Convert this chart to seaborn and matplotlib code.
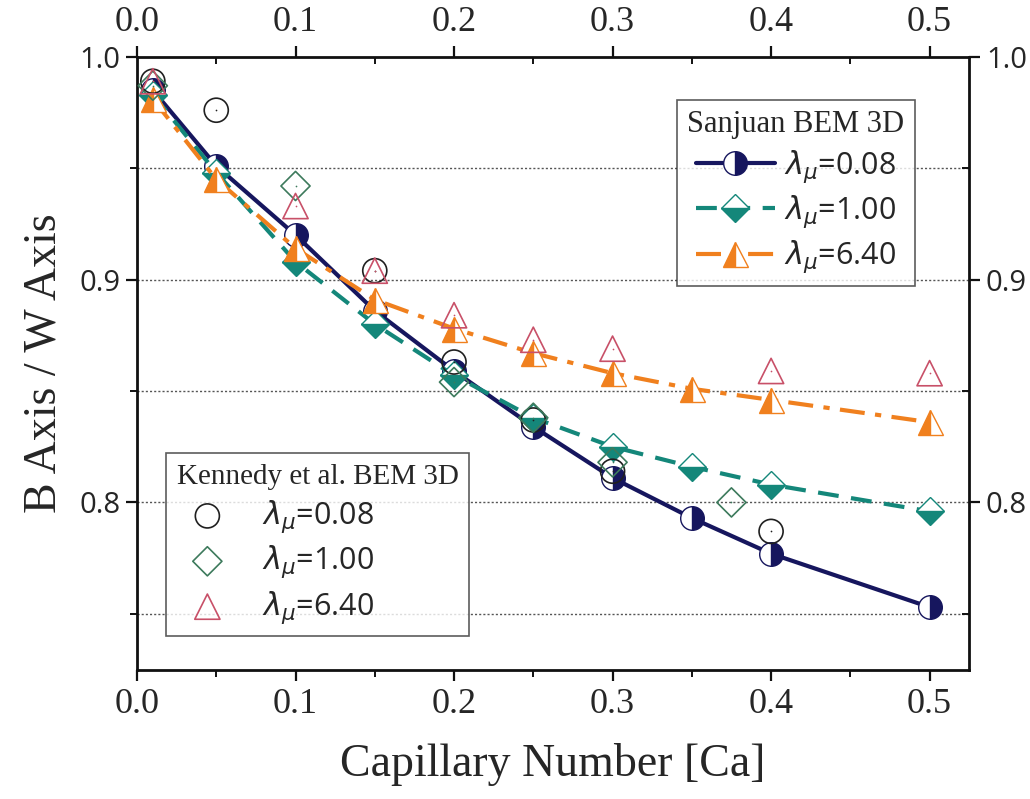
import numpy as np
import pandas as pd
import matplotlib
matplotlib.use("Agg")
import matplotlib.pyplot as plt
import seaborn as sns
from matplotlib.ticker import MultipleLocator

sns.set_theme(style="white")
plt.rcParams['font.family'] = ['Liberation Serif', 'DejaVu Serif']
plt.rcParams['mathtext.fontset'] = 'dejavusans'

# ---- data ----
ca_s = [0.01, 0.05, 0.10, 0.15, 0.20, 0.25, 0.30, 0.35, 0.40, 0.50]
san_008 = [0.985, 0.951, 0.920, 0.886, 0.859, 0.834, 0.811, 0.793, 0.777, 0.753]
san_100 = [0.983, 0.948, 0.908, 0.880, 0.857, 0.838, 0.825, 0.816, 0.808, 0.796]
san_640 = [0.981, 0.945, 0.914, 0.891, 0.878, 0.867, 0.858, 0.851, 0.846, 0.836]

ken_008_x = [0.01, 0.05, 0.15, 0.20, 0.25, 0.30, 0.40]
ken_008_y = [0.989, 0.976, 0.904, 0.863, 0.837, 0.814, 0.787]
ken_100_x = [0.01, 0.10, 0.20, 0.25, 0.30, 0.375]
ken_100_y = [0.987, 0.942, 0.854, 0.838, 0.818, 0.800]
ken_640_x = [0.01, 0.10, 0.15, 0.20, 0.25, 0.30, 0.40, 0.50]
ken_640_y = [0.989, 0.933, 0.904, 0.884, 0.873, 0.869, 0.859, 0.858]

labels = [r'$\lambda_{\mu}$=0.08', r'$\lambda_{\mu}$=1.00', r'$\lambda_{\mu}$=6.40']

NAVY = '#16165e'
TEAL = '#14877a'
ORANGE = '#f0801e'
K_CIRC = '#202020'
K_DIAM = '#3d7a5c'
K_TRI = '#c85068'

fig, ax = plt.subplots(figsize=(10.30, 7.99), dpi=100)
fig.subplots_adjust(left=0.133, right=0.941, top=0.929, bottom=0.162)

# grid lines
for yv in [0.75, 0.80, 0.85, 0.90, 0.95]:
    ax.axhline(yv, color='#555555', lw=1.0, ls=(0, (1.5, 1.5)), zorder=0)

# Sanjuan (lines + half-filled markers)
san_specs = [
    (san_008, NAVY, '-', 'o', 'right', labels[0], 17),
    (san_100, TEAL, (0, (5, 3)), 'D', 'bottom', labels[1], 14),
    (san_640, ORANGE, (0, (6, 2.5, 1.5, 2.5)), '^', 'left', labels[2], 18),
]
san_handles = []
for vals, col, ls, mk, fs, lab, ms in san_specs:
    df = pd.DataFrame({'Ca': ca_s, 'r': vals})
    sns.lineplot(data=df, x='Ca', y='r', ax=ax, color=col, lw=3.0, linestyle=ls,
                 marker=mk, markersize=ms, fillstyle=fs, markerfacecolor=col,
                 markerfacecoloralt='white', markeredgecolor=col,
                 markeredgewidth=1.0, label=lab, zorder=3)
    san_handles.append(ax.get_lines()[-1])

# Kennedy (open markers with a centre dot)
ken_specs = [
    (ken_008_x, ken_008_y, K_CIRC, 'o', labels[0], 300),
    (ken_100_x, ken_100_y, K_DIAM, 'D', labels[1], 220),
    (ken_640_x, ken_640_y, K_TRI, '^', labels[2], 330),
]
ken_handles = []
for xs, ys, col, mk, lab, s in ken_specs:
    df = pd.DataFrame({'Ca': xs, 'r': ys})
    sns.scatterplot(data=df, x='Ca', y='r', ax=ax, marker=mk, s=s,
                    facecolor='none', edgecolor=col, linewidth=1.2,
                    label=lab, zorder=4)
    ken_handles.append(ax.collections[-1])
    sns.scatterplot(data=df, x='Ca', y='r', ax=ax, marker='.', s=6,
                    color=col, linewidth=0, zorder=5, legend=False)

ax.set_xlim(0.0, 0.525)
ax.set_ylim(0.725, 1.0)

ax.xaxis.set_major_locator(MultipleLocator(0.1))
ax.xaxis.set_minor_locator(MultipleLocator(0.05))
ax.yaxis.set_major_locator(MultipleLocator(0.1))
ax.yaxis.set_minor_locator(MultipleLocator(0.05))
ax.xaxis.set_major_formatter(matplotlib.ticker.FormatStrFormatter('%.1f'))
ax.yaxis.set_major_formatter(matplotlib.ticker.FormatStrFormatter('%.1f'))

ax.tick_params(axis='x', which='both', bottom=True, top=True, labelbottom=True,
               labeltop=True, direction='out', color='#111111')
ax.tick_params(axis='y', which='both', left=True, right=True, labelleft=True,
               labelright=True, direction='out', color='#111111')
ax.tick_params(which='major', length=8, width=1.6)
ax.tick_params(which='minor', length=5, width=1.4)
# top & right ticks point inward
for t in ax.xaxis.get_major_ticks() + ax.xaxis.get_minor_ticks():
    t.tick2line.set_marker(matplotlib.lines.TICKDOWN)
for t in ax.yaxis.get_major_ticks() + ax.yaxis.get_minor_ticks():
    t.tick2line.set_marker(matplotlib.lines.TICKLEFT)

for lab in ax.get_xticklabels():
    lab.set_fontfamily(['Liberation Serif', 'DejaVu Serif'])
    lab.set_fontsize(26)
for lab in ax.get_yticklabels():
    lab.set_fontfamily(['Open Sans', 'DejaVu Sans'])
    lab.set_fontsize(21)
ax.xaxis.set_tick_params(pad=5)
ax.yaxis.set_tick_params(pad=4)

for sp in ax.spines.values():
    sp.set_color('#111111')
    sp.set_linewidth(2.0)

ax.set_xlabel('Capillary Number [Ca]', fontsize=33, labelpad=16,
              fontfamily=['Liberation Serif', 'DejaVu Serif'])
ax.set_ylabel('B Axis / W Axis', fontsize=33, labelpad=10)

# legends
if ax.get_legend() is not None:
    ax.get_legend().remove()
leg1 = ax.legend(san_handles, labels, title='Sanjuan BEM 3D',
                 loc='upper right', bbox_to_anchor=(0.935, 0.93), borderaxespad=0,
                 fontsize=22, title_fontsize=22, frameon=True, fancybox=False,
                 edgecolor='#333333', handlelength=2.6, handletextpad=0.3,
                 borderpad=0.35, labelspacing=0.3)
leg1.get_frame().set_linewidth(1.2)
leg1.set_zorder(10)
ax.add_artist(leg1)
leg2 = ax.legend(ken_handles, labels, title='Kennedy et al. BEM 3D',
                 loc='lower left', bbox_to_anchor=(0.035, 0.054), borderaxespad=0,
                 fontsize=22, title_fontsize=21, frameon=True, fancybox=False,
                 edgecolor='#333333', handlelength=2.0, handletextpad=0.8,
                 borderpad=0.35, labelspacing=0.3, alignment='left')
leg2.get_frame().set_linewidth(1.2)
leg2.set_zorder(10)
for leg in (leg1, leg2):
    for t in leg.get_texts():
        t.set_fontfamily(['Open Sans', 'DejaVu Sans'])

fig.savefig('out.png', dpi=100, facecolor='white')
